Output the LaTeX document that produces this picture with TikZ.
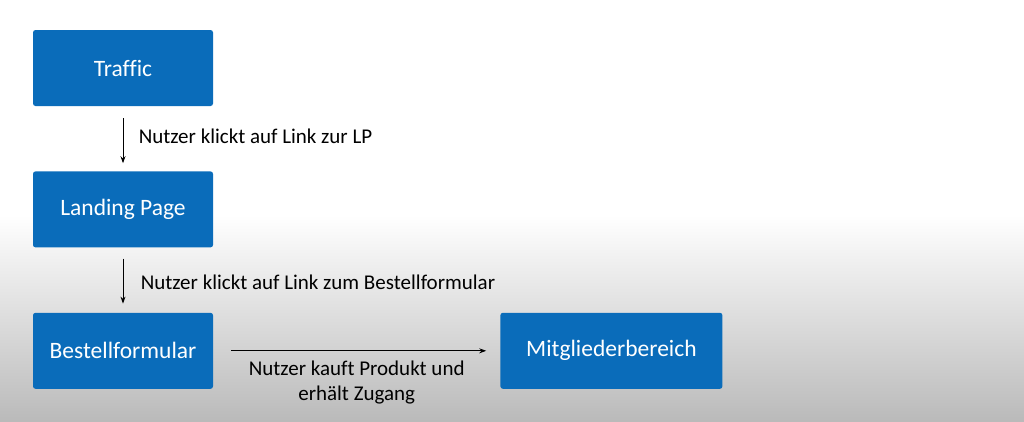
\documentclass[tikz,border=0pt]{standalone}
\usepackage{fontspec}
\setmainfont[Ligatures=NoCommon]{Carlito}
\usetikzlibrary{positioning,arrows.meta}
\definecolor{boxblue}{HTML}{0A6CBA}

\begin{document}
\begin{tikzpicture}[x=1pt,y=-1pt,font=\fontsize{21}{25}\selectfont]
            \tikzstyle{step box}=[rectangle,rounded corners=2.5pt,fill=boxblue,text=white,minimum width=180pt,minimum height=76pt,inner sep=0pt,font=\fontsize{23.5}{28}\selectfont]
            \tikzstyle{flow}=[-{Stealth[length=7pt,width=5pt]},line width=0.9pt,black]
            % background
            \fill[white] (0,0) rectangle (1024,215);
            \shade[top color=white,bottom color=black!27] (0,215) rectangle (1024,421);
            \useasboundingbox (0,0) rectangle (1024,421);
            % boxes
            \node(traffic)[step box] at (123,68){Traffic};
            \node(landing)[step box,below=65pt of traffic]{Landing Page};
            \node(bestell)[step box,below=65pt of landing]{Bestellformular};
            \node(mitglied)[step box,minimum width=222pt,right=287pt of bestell]{Mitgliederbereich};
            % arrows
            \draw[flow,shorten <=12pt,shorten >=8pt] (traffic) -- (landing)
              node[midway,right,xshift=12pt,yshift=2pt]{Nutzer klickt auf Link zur LP};
            \draw[flow,shorten <=11pt,shorten >=9pt] (landing) -- (bestell)
              node[midway,right,xshift=14pt,yshift=-2pt]{Nutzer klickt auf Link zum Bestellformular};
            \draw[flow,shorten <=18pt,shorten >=14pt] (bestell) -- (mitglied)
              node[midway,below,yshift=-6pt,align=center]{Nutzer kauft Produkt und\\erhält Zugang};
          \end{tikzpicture}
\end{document}
